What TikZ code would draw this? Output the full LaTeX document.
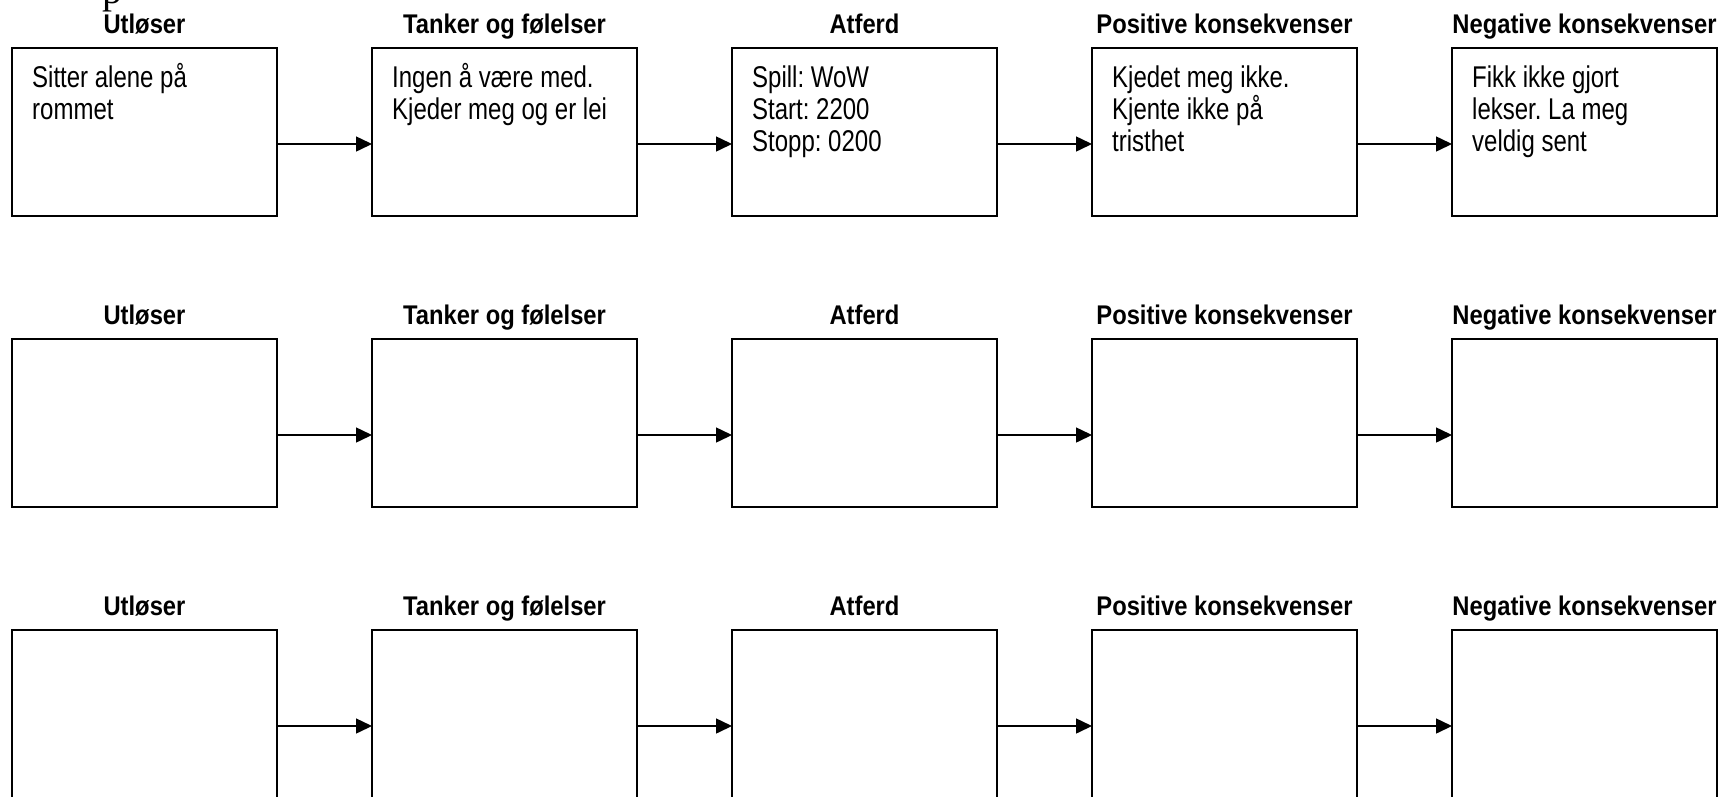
\documentclass[tikz,border=0pt]{standalone}
\usepackage{fontspec}
\newfontfamily\headfont{Liberation Sans}[FakeStretch=0.88]
\newfontfamily\bodyfont{Liberation Sans}[FakeStretch=0.80]
\newfontfamily\serifp{Liberation Serif}
\usetikzlibrary{arrows.meta}
\frenchspacing
\begin{document}
\begin{tikzpicture}[x=1pt,y=-1pt,
  box/.style={draw, line width=1.8pt, rectangle, minimum width=265pt, minimum height=168pt, inner sep=0pt, outer sep=0pt, anchor=north west},
  head/.style={font=\headfont\bfseries\fontsize{27}{32}\selectfont, anchor=base, inner sep=0pt},
  body/.style={font=\bodyfont\frenchspacing\fontsize{30}{32}\selectfont, anchor=base west, inner sep=0pt, text width=240pt, align=flush left},
  conn/.style={line width=1.5pt, -{Triangle[length=16pt,width=15pt]}}]
\useasboundingbox (0,0) rectangle (1729,796);
\fill[white] (0,0) rectangle (1729,796);
\begin{scope}
  \clip (0,0) rectangle (1729,796);
  \node[font=\serifp\fontsize{40}{40}\selectfont, anchor=base west, inner sep=0pt] (pfrag) at (102,3) {p};
\end{scope}
\foreach \r in {0,1,2} {
  \foreach \c/\h in {0/Utløser,1/Tanker og følelser,2/Atferd,3/Positive konsekvenser,4/Negative konsekvenser} {
    \node[box] (b\r\c) at ({12+360*\c},{48+291*\r}) {};
    \node[head] (h\r\c) at ([yshift=15pt]b\r\c.north) {\h};
  }
  \foreach \c in {0,1,2,3} {
    \pgfmathtruncatemacro{\n}{\c+1}
    \draw[conn] ([yshift=-12pt]b\r\c.east) -- ([yshift=-12pt]b\r\n.west);
  }
}
\node[body] (t0) at ([shift={(20,39)}]b00.north west) {Sitter alene på\\rommet};
\node[body] (t1) at ([shift={(20,39)}]b01.north west) {Ingen å være med.\\Kjeder meg og er lei};
\node[body] (t2) at ([shift={(20,39)}]b02.north west) {Spill: WoW\\Start: 2200\\Stopp: 0200};
\node[body] (t3) at ([shift={(20,39)}]b03.north west) {Kjedet meg ikke.\\Kjente ikke på\\tristhet};
\node[body] (t4) at ([shift={(20,39)}]b04.north west) {Fikk ikke gjort\\lekser. La meg\\veldig sent};
\end{tikzpicture}
\end{document}
